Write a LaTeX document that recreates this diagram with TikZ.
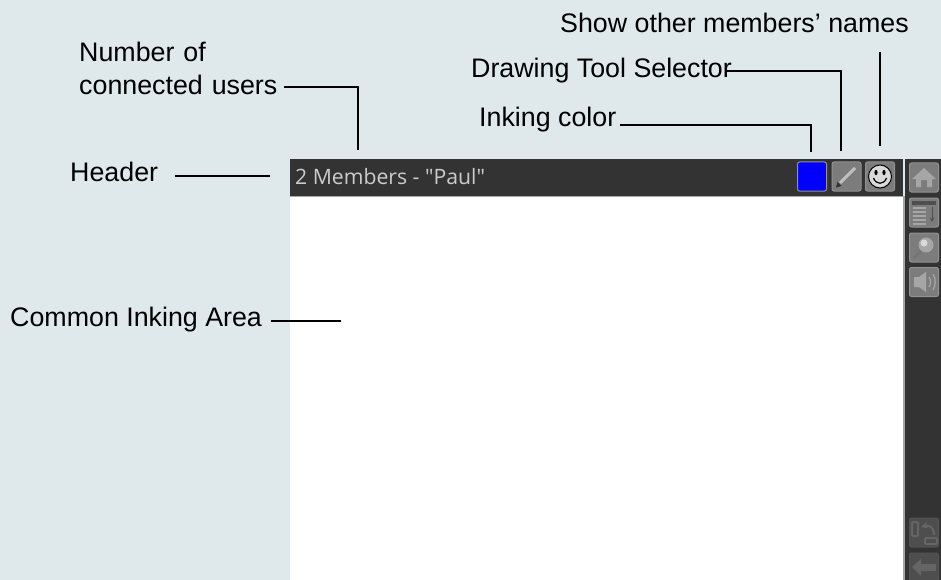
\documentclass[tikz,border=0pt]{standalone}
\usepackage{fontspec}
\setmainfont{Liberation Sans}
\newfontfamily\barfont{Open Sans}
\usetikzlibrary{positioning}
\definecolor{pagebg}{HTML}{DFE9EB}
\definecolor{bardark}{HTML}{333333}
\definecolor{btnfill}{HTML}{7C7C7C}
\definecolor{btnedge}{HTML}{929292}
\definecolor{btnglyph}{HTML}{A6A6A6}
\definecolor{btnlow}{HTML}{4E4E4E}
\definecolor{btnlowglyph}{HTML}{656565}
\tikzset{
  callout/.style={font=\fontsize{26.8}{33}\selectfont, inner sep=0pt, text=black},
  leader/.style={black, line width=1.6pt},
  toolbtn/.style={draw=btnedge, fill=btnfill, line width=1pt, rounded corners=2pt, minimum width=29pt, minimum height=29pt, inner sep=0pt},
  lowbtn/.style={draw=btnlow!120!bardark, fill=btnlow, line width=1pt, rounded corners=2pt, minimum width=29pt, minimum height=29pt, inner sep=0pt},
  glyph/.style={fill=btnglyph, draw=none},
  lowglyph/.style={fill=btnlowglyph, draw=none}
}
\begin{document}
\begin{tikzpicture}[x=1pt,y=-1pt]
\useasboundingbox (0,0) rectangle (941,580);
\fill[pagebg] (0,0) rectangle (941,580);
% screen
\fill[white] (290,196) rectangle (903,580);
\fill[bardark] (290,159) rectangle (903,196);
\fill[bardark] (905,159) rectangle (941,580);
\fill[gray!70] (290,195.5) rectangle (903,197);
\fill[gray!70] (903,196) rectangle (905,580);
\node[anchor=west, inner sep=0pt, text=white!80!black, font=\barfont\fontsize{21.2}{24}\selectfont] (title) at (295,177) {2 Members - "Paul"};
% header buttons
\node[toolbtn, fill=blue] (inkbtn) at (812,176.5) {};
\node[toolbtn] (penbtn) at (846.5,176.5) {};
\node[toolbtn] (facebtn) at (880,176.5) {};
\draw[white!75!black, line width=3pt] (840,183) -- (855,168);
\fill[black!80] (836,187.5) -- (837.5,182) -- (841.5,186) -- cycle;
\draw[black, line width=1pt, fill=white!85!black] (880,176.5) circle (11.5pt);
\fill[black] (876,172.5) ellipse (1.6pt and 2.6pt) (884,172.5) ellipse (1.6pt and 2.6pt);
\draw[black, line width=1.2pt] (873.5,178) .. controls (876,185) and (884,185) .. (886.5,178);
% side buttons
\node[toolbtn] (homebtn) at (924,177.5) {};
\node[toolbtn] (listbtn) at (924,212.5) {};
\node[toolbtn] (zoombtn) at (924,247.5) {};
\node[toolbtn] (soundbtn) at (924,282) {};
\node[lowbtn] (swapbtn) at (924,532.5) {};
\node[lowbtn] (backbtn) at (924,567.5) {};
\fill[glyph] (924,168) -- (936,179) -- (932,179) -- (932,187) -- (927,187) -- (927,180) -- (921,180) -- (921,187) -- (916,187) -- (916,179) -- (912,179) -- cycle;
\fill[btnlow] (912,201) rectangle (936,205);
\foreach \y in {207,211,215,219,223}
  \fill[glyph] (913,\y) rectangle (926,\y+2);
\draw[btnlow, line width=1pt, ->, >=stealth] (932,207) -- (932,222);
\draw[btnglyph!70!black, line width=2.5pt] (921,251) -- (914,258);
\fill[btnglyph] (926,245) circle (7.5pt);
\fill[white!85!black] (924,243) circle (3.5pt);
\fill[glyph] (914,277) -- (919,277) -- (926,272) -- (926,292) -- (919,287) -- (914,287) -- cycle;
\draw[btnglyph, line width=1.2pt] (929,277) .. controls (931,280) and (931,284) .. (929,287);
\draw[btnglyph, line width=1.2pt] (933,274) .. controls (936,279) and (936,285) .. (933,290);
\draw[btnlowglyph, line width=2pt, rounded corners=1pt] (912,522) rectangle (918,536);
\draw[btnlowglyph, line width=2pt, rounded corners=1pt] (925,538) rectangle (937,544);
\draw[btnlowglyph, line width=2pt, ->, >=stealth] (934,535) .. controls (934,526) and (928,525) .. (921,527);
\fill[lowglyph] (912,567) -- (921,559) -- (921,564) -- (936,564) -- (936,571) -- (921,571) -- (921,576) -- cycle;
% labels
\node[callout, anchor=west] (showlbl) at (560,23) {Show other members’ names};
\node[callout, anchor=west, align=left, text width=220pt] (userslbl) at (79,68) {Number of\\connected users};
\node[callout, anchor=west] (toollbl) at (471,71) {Drawing Tool Selector};
\node[callout, anchor=west] (colorlbl) at (479,120) {Inking color};
\node[callout, anchor=west] (headerlbl) at (70,172) {Header};
\node[callout, anchor=west] (arealbl) at (10,320) {Common Inking Area};
% leaders
\coordinate (usersend) at (358,150);
\coordinate (toolend) at (841,151);
\coordinate (colorend) at (811,152);
\coordinate (showstart) at (880,52);
\coordinate (showend) at (880,146);
\coordinate (headerstart) at (175,176);
\coordinate (headerend) at (270,176);
\coordinate (areastart) at (271,321);
\coordinate (areaend) at (341,321);
\coordinate (usersstart) at (284,87);
\coordinate (toolstart) at (725,71);
\coordinate (colorstart) at (620,125);
\draw[leader] (usersstart) -| (usersend);
\draw[leader] (toolstart) -| (toolend);
\draw[leader] (colorstart) -| (colorend);
\draw[leader] (showstart) -- (showend);
\draw[leader] (headerstart) -- (headerend);
\draw[leader] (areastart) -- (areaend);
\end{tikzpicture}
\end{document}
